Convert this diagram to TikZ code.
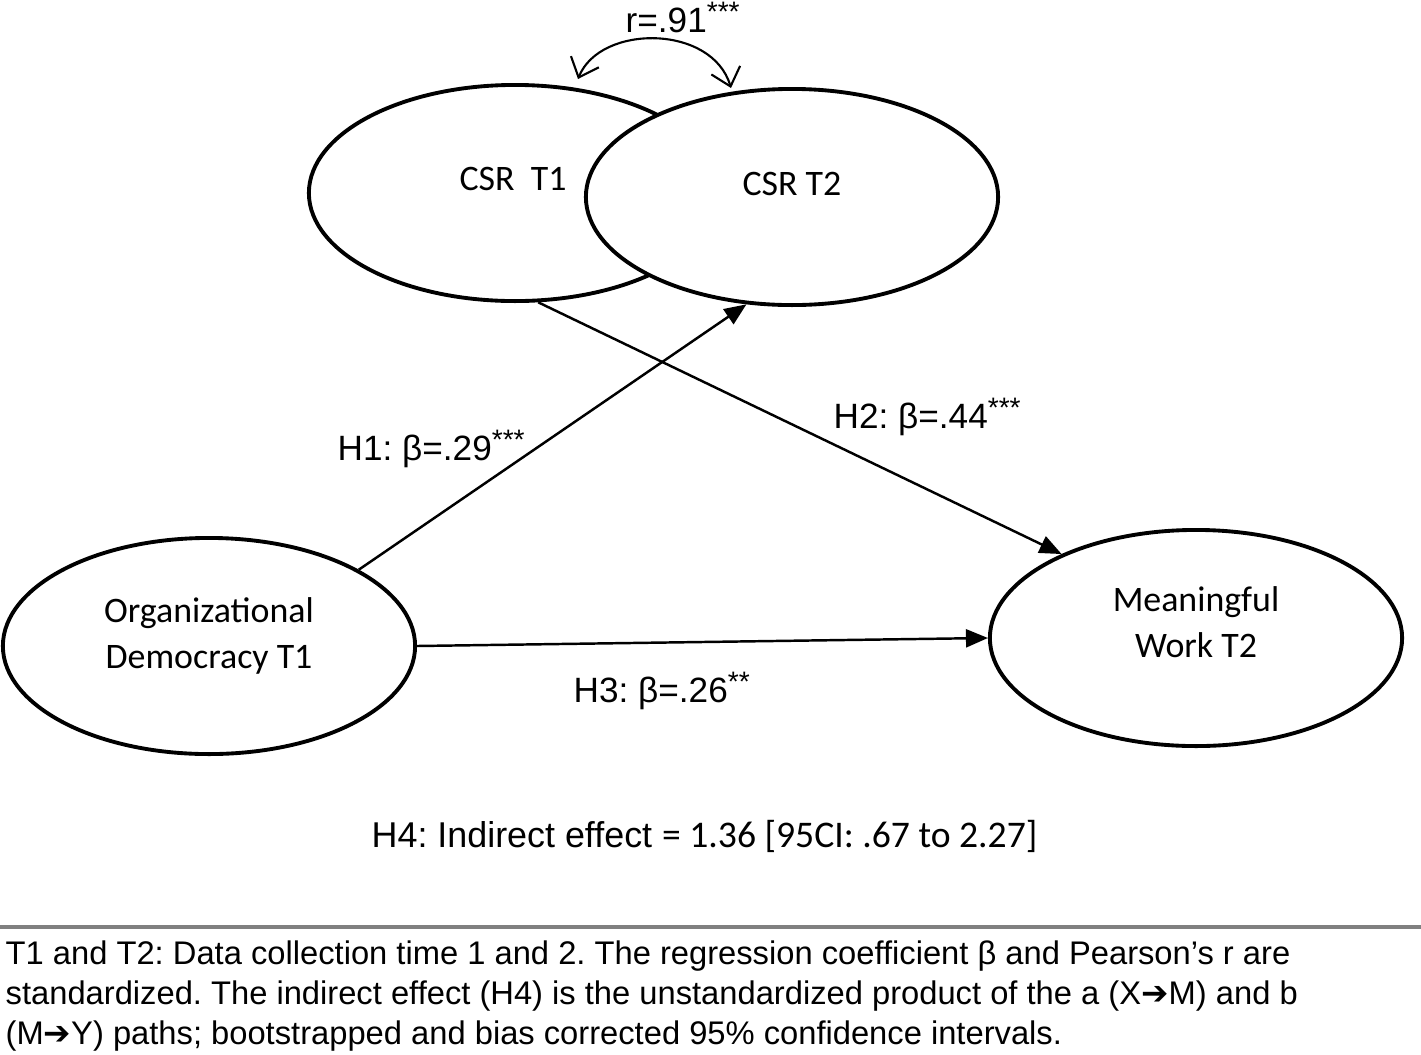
\documentclass[tikz,border=0pt]{standalone}
\usepackage{fontspec}
\setmainfont{Carlito}
\newfontfamily\arial{Liberation Sans}
\newfontfamily\symfont{DejaVu Sans}
\usetikzlibrary{shapes.geometric,arrows.meta}
\newcommand\stars[1]{\raisebox{0.55ex}{\fontsize{8}{8}\selectfont #1}}
\newcommand\toarrow{{\symfont ➔}}

\tikzset{
  latent/.style={draw, ellipse, line width=1.1pt, fill=white,
    minimum width=4.12cm, minimum height=2.16cm, inner sep=0pt},
  vartext/.style={font=\fontsize{10.2}{13.1}\selectfont, align=center, inner sep=0pt},
  coef/.style={font=\arial\fontsize{10}{12}\selectfont, anchor=base west, inner sep=0pt},
  effect/.style={line width=0.7pt, -{Triangle[length=0.22cm,width=0.18cm]}},
  corr/.style={line width=0.6pt,
    {Straight Barb[length=0.17cm,width=0.3cm]}-{Straight Barb[length=0.17cm,width=0.3cm]}},
  rule/.style={line width=1.1pt, black!50},
  note/.style={font=\arial\fontsize{9.3}{11.4}\selectfont, align=left,
    anchor=north west, inner sep=0pt}
}

\begin{document}
\frenchspacing
\begin{tikzpicture}[x=0.01cm, y=-0.01cm]
  \useasboundingbox (0,0) rectangle (1421,1054);
  % CSR at T1 and T2
  \node[latent] (csrA) at (515,193) {};
  \node[latent] (csrB) at (792,197) {};
  \node[vartext] (csrAtxt) at (513,179) {CSR~~T1};
  \node[vartext] (csrBtxt) at (792,184) {CSR T2};
  % correlation
  \coordinate (rL) at (578,79);
  \coordinate (rR) at (731,88);
  \draw[corr] (rL) .. controls (600,24) and (712,24) .. (rR);
  \node[coef] (rlab) at (625,32) {r=.91\stars{***}};
  % X and Y
  \node[latent] (odem) at (209,646) {};
  \node[vartext] (odemtxt) at (209,636) {Organizational\\Democracy T1};
  \node[latent] (mwork) at (1196,638) {};
  \node[vartext] (mworktxt) at (1196,622) {Meaningful\\Work T2};
  % paths
  \draw[effect] (odem.27) -- (csrB.-113);
  \draw[effect] (csrA.-78) -- (mwork.148);
  \draw[effect] (odem.east) -- (mwork.west);
  \node[coef] (h1) at (337,460) {H1: β=.29\stars{***}};
  \node[coef] (h2) at (833,428) {H2: β=.44\stars{***}};
  \node[coef] (h3) at (573,702) {H3: β=.26\stars{**}};
  % indirect effect
  \node[coef] (h4) at (371,847) {\fontsize{10.2}{12}\selectfont H4: Indirect effect {\normalfont\fontsize{10.7}{12}\selectfont = 1.36 [95CI: .67 to 2.27]}};
  % note
  \draw[rule] (0,927) -- (1421,927);
  \node[note] (note) at (5,940) {T1 and T2: Data collection time 1 and 2. The regression coefficient β and Pearson’s r are\\
    standardized. The indirect effect (H4) is the unstandardized product of the a (X\toarrow M) and b\\
    (M\toarrow Y) paths; bootstrapped and bias corrected 95\% confidence intervals.};
\end{tikzpicture}
\end{document}
